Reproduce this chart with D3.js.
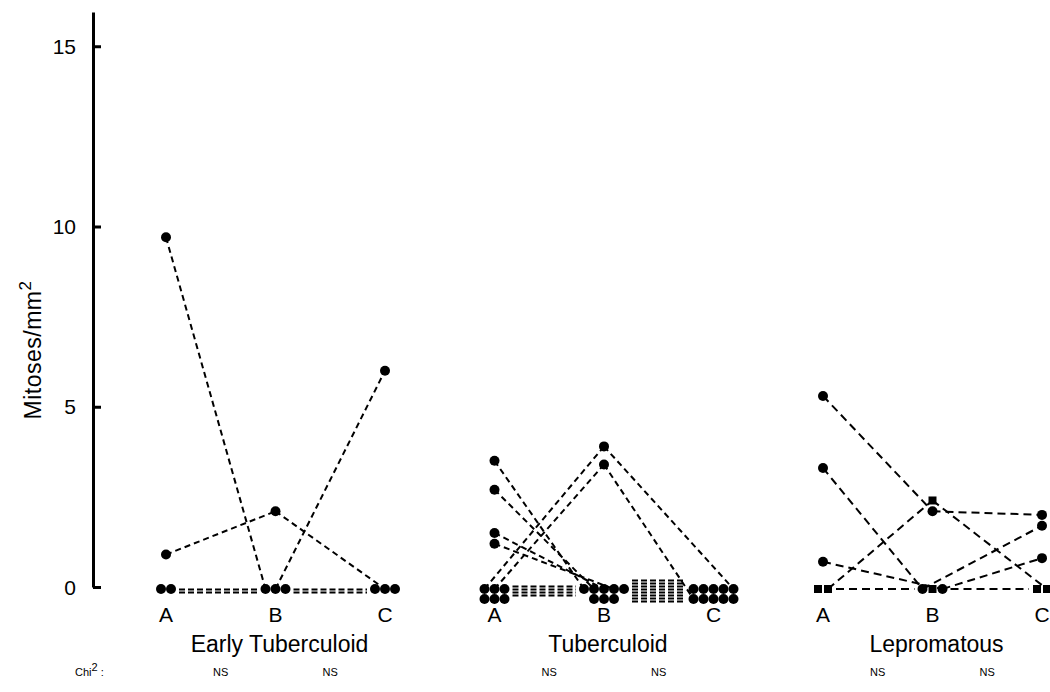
<!DOCTYPE html>
<html>
<head>
<meta charset="utf-8">
<script src="https://cdn.jsdelivr.net/npm/d3@7"></script>
<style>
  body { margin: 0; background: #fff; }
  text { font-family: "Liberation Sans", Arial, sans-serif; fill: #000; }
</style>
</head>
<body>
<svg id="chart" width="1050" height="692"></svg>
<script>
// --- data ---
const groups = ["Early Tuberculoid", "Tuberculoid", "Lepromatous"];
const stages = ["A", "B", "C"];
const yTicks = [0, 5, 10, 15];
const chiLabels = ["NS", "NS"];

// one row per subject: mitoses/mm2 at A, B, C
const earlyTuberculoid = [
  [9.7, 0, 0],
  [0.9, 2.1, 0],
  [0, 0, 6.0],
  [0, 0, 0]
];
const tuberculoid = [
  [3.5, 0, 0],
  [2.7, 0, 0],
  [1.5, 0, 0],
  [1.2, 0, 0],
  [0, 3.9, 0],
  [0, 3.4, 0],
  [0, 0, 0],
  [0, 0, 0],
  [0, 0, 0],
  [0, 0, 0]
];
const lepromatous = [
  [5.3, 2.1, 2.0],
  [3.3, 0, 1.7],
  [0, 0, 0],
  [0.7, 0, 0.8],
  [0, 2.4, 0]
];
const lepromatousMarkers = ["circle", "circle", "square", "circle", "square"];

const series = [earlyTuberculoid, tuberculoid, lepromatous];
const markers = [null, null, lepromatousMarkers];

// --- scales ---
const svg = d3.select("#chart");
const y = d3.scaleLinear().domain([0, 15.95]).range([587, 12]);
const groupX = d3.scalePoint().domain(groups).range([166, 823]);
const stageX = d3.scalePoint().domain(stages).range([0, 219]);

const r = 5;         // dot radius
const step = 10;     // spacing of stacked zero dots
const zeroY = y(0) + 2;

// y axis (ticks point right, labels drawn separately)
const yAxis = d3.axisRight(y)
  .tickValues(yTicks)
  .tickSizeInner(8)
  .tickSizeOuter(0)
  .tickFormat("");

const axisG = svg.append("g")
  .attr("transform", "translate(93,0)")
  .call(yAxis);
axisG.selectAll("path, line").attr("stroke", "#000").attr("stroke-width", 3);

svg.append("g").selectAll("text")
  .data(yTicks)
  .join("text")
  .attr("x", 76)
  .attr("y", d => y(d))
  .attr("dy", "0.36em")
  .attr("text-anchor", "end")
  .attr("font-size", 21)
  .text(d => d);

const yTitle = svg.append("text")
  .attr("transform", "translate(41,350) rotate(-90)")
  .attr("text-anchor", "middle")
  .attr("font-size", 23)
  .attr("letter-spacing", 0.5);
yTitle.append("tspan").text("Mitoses/mm");
yTitle.append("tspan").attr("font-size", 17).attr("dy", -10).text("2");

// --- groups ---
groups.forEach((g, gi) => {
  const data = series[gi];
  const mk = markers[gi];
  const cx = s => groupX(g) + stageX(s);
  const dash = gi === 2 ? "8,5" : "6,4";

  // place zero values as a small stack of dots under each stage
  const pos = data.map(() => []);
  stages.forEach((s, si) => {
    const zeros = data.map((row, i) => i).filter(i => data[i][si] === 0);
    const n = zeros.length;
    const cols = n <= 3 ? n : (n % 3 === 0 && n <= 6 ? 3 : 5);
    zeros.forEach((i, k) => {
      const row = Math.floor(k / cols), col = k % cols;
      const inRow = Math.min(cols, n - row * cols);
      pos[i][si] = {x: cx(s) + (col - (inRow - 1) / 2) * step, y: zeroY + row * step, zero: true};
    });
    data.forEach((rowV, i) => {
      if (rowV[si] !== 0) pos[i][si] = {x: cx(s), y: y(rowV[si]), zero: false};
    });
  });

  const lines = svg.append("g")
    .attr("fill", "none")
    .attr("stroke", "#000")
    .attr("stroke-width", 2)
    .attr("stroke-dasharray", dash);

  for (let si = 0; si < stages.length - 1; si++) {
    // subjects that stay at zero: stacked horizontal dashes
    const flat = data.map((row, i) => i).filter(i => pos[i][si].zero && pos[i][si + 1].zero);
    const left = d3.max(data, (row, i) => pos[i][si].zero ? pos[i][si].x : -Infinity);
    const right = d3.min(data, (row, i) => pos[i][si + 1].zero ? pos[i][si + 1].x : Infinity);
    flat.forEach((i, k) => {
      const yy = flat.length > 1 ? zeroY + 2 + (k - (flat.length - 1) / 2) * 3 : zeroY;
      lines.append("line")
        .attr("x1", left + r + 3).attr("x2", right - r - 3)
        .attr("y1", yy).attr("y2", yy)
        .attr("stroke-dasharray", flat.length > 1 ? "6,3" : dash);
    });
    data.forEach((row, i) => {
      if (pos[i][si].zero && pos[i][si + 1].zero) return;
      lines.append("line")
        .attr("x1", pos[i][si].x).attr("y1", pos[i][si].y)
        .attr("x2", pos[i][si + 1].x).attr("y2", pos[i][si + 1].y);
    });
  }

  // markers
  const pts = [];
  data.forEach((row, i) => stages.forEach((s, si) => pts.push({...pos[i][si], shape: mk ? mk[i] : "circle"})));
  svg.append("g").selectAll("path")
    .data(pts)
    .join("path")
    .attr("transform", d => `translate(${d.x},${d.y})`)
    .attr("d", d => d.shape === "square"
      ? d3.symbol(d3.symbolSquare, 64)()
      : d3.symbol(d3.symbolCircle, Math.PI * r * r)())
    .attr("fill", "#000");

  // stage labels
  svg.append("g").selectAll("text")
    .data(stages)
    .join("text")
    .attr("x", s => cx(s))
    .attr("y", 622)
    .attr("text-anchor", "middle")
    .attr("font-size", 21)
    .text(s => s);

  // group title
  svg.append("text")
    .attr("x", cx("B") + 4)
    .attr("y", 652)
    .attr("text-anchor", "middle")
    .attr("font-size", 23)
    .text(g);

  // chi-square row
  svg.append("g").selectAll("text")
    .data(chiLabels)
    .join("text")
    .attr("x", (d, k) => (cx(stages[k]) + cx(stages[k + 1])) / 2)
    .attr("y", 676)
    .attr("text-anchor", "middle")
    .attr("font-size", 11)
    .text(d => d);
});

const chi = svg.append("text").attr("x", 75).attr("y", 676).attr("font-size", 11);
chi.append("tspan").text("Chi");
chi.append("tspan").attr("dy", -5).attr("font-size", 11).text("2");
chi.append("tspan").attr("dy", 5).text(" :");
</script>
</body>
</html>
